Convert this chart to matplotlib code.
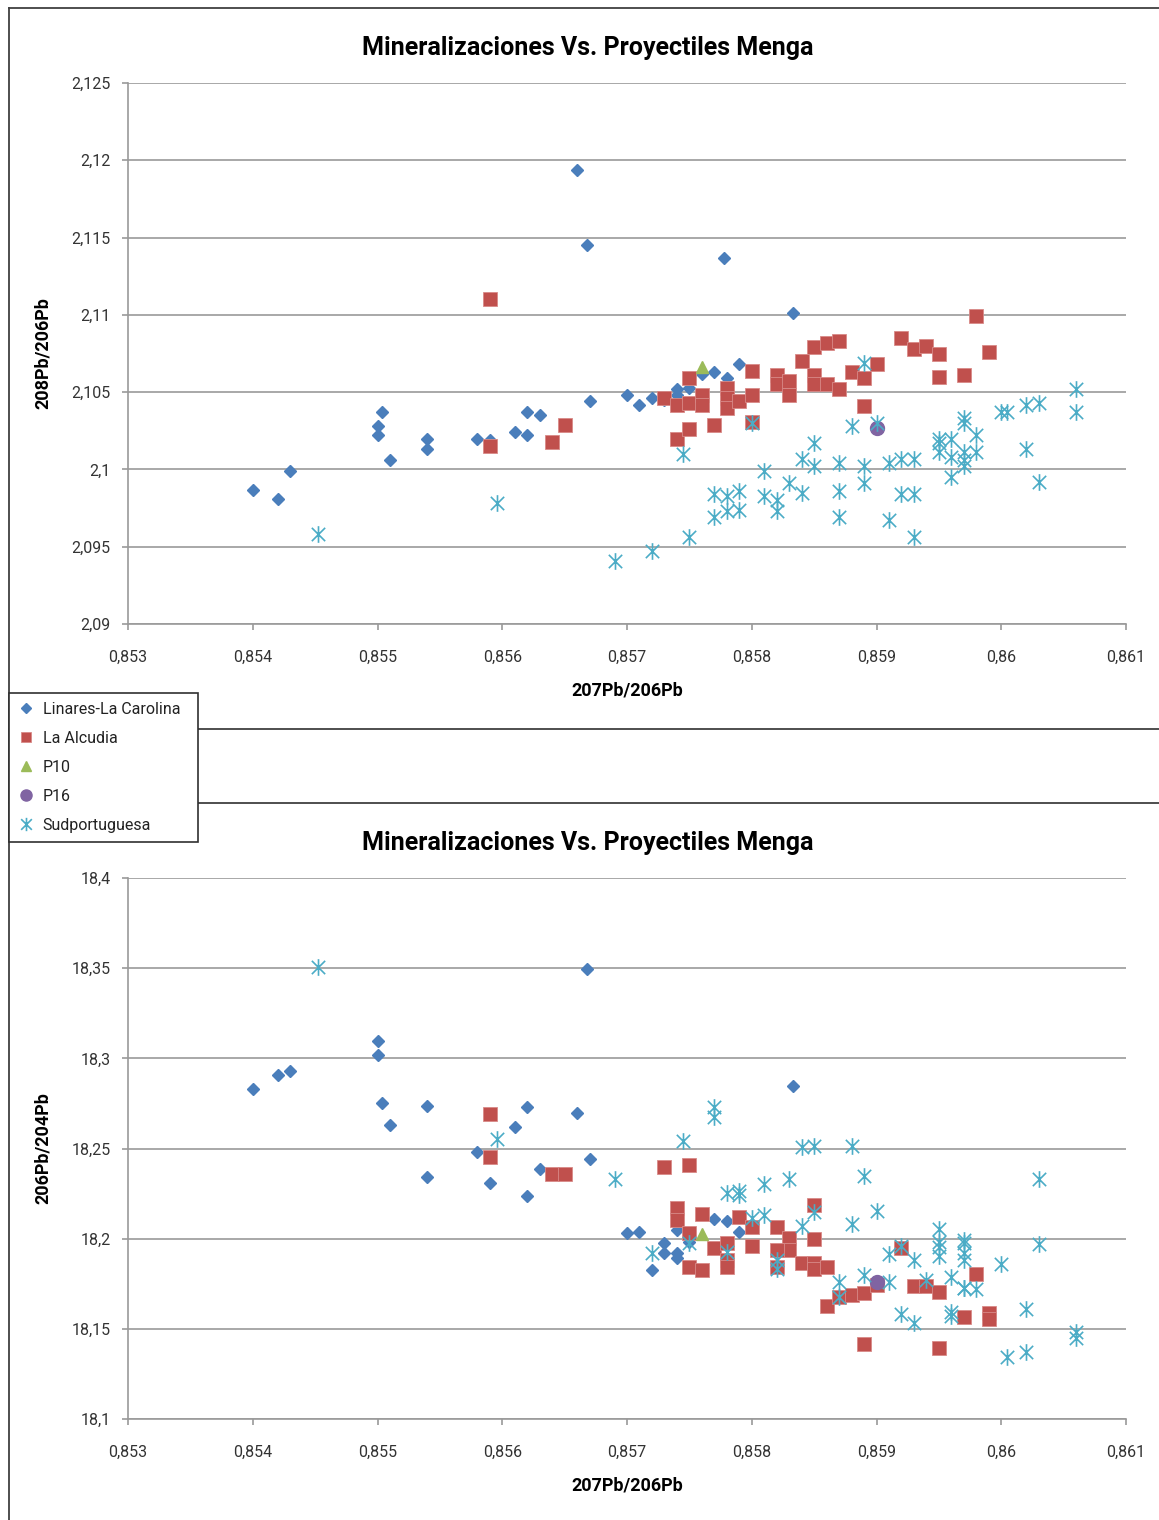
import numpy as np
import matplotlib
matplotlib.use("Agg")
import matplotlib.pyplot as plt
from matplotlib.path import Path
from matplotlib.lines import Line2D
from matplotlib.ticker import FuncFormatter, MultipleLocator

plt.rcParams['font.family'] = ['Roboto', 'DejaVu Sans']

# --- grafico 1: 207Pb/206Pb vs 208Pb/206Pb ---
lin_x1 = [0.8540, 0.8542, 0.8543, 0.8550, 0.8550, 0.85504, 0.8551, 0.8554, 0.8554, 0.8558,
          0.8559, 0.8561, 0.8562, 0.8562, 0.8563, 0.8566, 0.85668, 0.8567, 0.8570, 0.8571,
          0.8572, 0.8573, 0.8574, 0.8574, 0.8575, 0.8576, 0.8577, 0.8578, 0.8579, 0.85778, 0.85833]
lin_y1 = [2.0987, 2.0981, 2.0999, 2.1022, 2.1028, 2.1037, 2.1006, 2.1020, 2.1013, 2.1020,
          2.1019, 2.1024, 2.1037, 2.1022, 2.1035, 2.1194, 2.1145, 2.1044, 2.1048, 2.1042,
          2.1046, 2.1045, 2.1052, 2.1048, 2.1053, 2.1062, 2.1063, 2.1059, 2.1068, 2.1137, 2.1101]

alc_x1 = [0.8559, 0.8559, 0.8564, 0.8565, 0.8573, 0.8574, 0.8574, 0.8575, 0.8575, 0.8575,
          0.8576, 0.8576, 0.8577, 0.8578, 0.8578, 0.8578, 0.8579, 0.8580, 0.8580, 0.8580,
          0.8582, 0.8582, 0.8583, 0.8583, 0.8584, 0.8585, 0.8585, 0.8585, 0.8586, 0.8587,
          0.8586, 0.8587, 0.8588, 0.8589, 0.8589, 0.8590, 0.8592, 0.8593, 0.8594, 0.8595,
          0.8595, 0.8597, 0.8598, 0.8599]
alc_y1 = [2.1110, 2.1015, 2.1018, 2.1029, 2.1046, 2.1042, 2.1020, 2.1059, 2.1043, 2.1026,
          2.1048, 2.1042, 2.1029, 2.1053, 2.1046, 2.1040, 2.1044, 2.1064, 2.1048, 2.1031,
          2.1061, 2.1055, 2.1057, 2.1048, 2.1070, 2.1079, 2.1061, 2.1055, 2.1082, 2.1083,
          2.1055, 2.1052, 2.1063, 2.1059, 2.1041, 2.1068, 2.1085, 2.1078, 2.1080, 2.1075,
          2.1060, 2.1061, 2.1099, 2.1076]

p10_x1 = [0.8576]
p10_y1 = [2.1066]
p16_x1 = [0.8590]
p16_y1 = [2.1027]

sud_x1 = [0.85452, 0.85596, 0.8569, 0.8572, 0.85745, 0.8575, 0.8577, 0.8577, 0.8578, 0.8578,
          0.8579, 0.8579, 0.8580, 0.8581, 0.8581, 0.8582, 0.8582, 0.8583, 0.8584, 0.8584,
          0.8585, 0.8585, 0.8587, 0.8587, 0.8587, 0.8588, 0.8589, 0.8589, 0.8589, 0.8590,
          0.8591, 0.8591, 0.8592, 0.8593, 0.8592, 0.8593, 0.8593, 0.8595, 0.8595, 0.8595,
          0.8596, 0.8596, 0.8596, 0.8597, 0.8597, 0.8597, 0.8598, 0.8597, 0.8597, 0.8598,
          0.8600, 0.86005, 0.8602, 0.8602, 0.8603, 0.8603, 0.8606, 0.8606]
sud_y1 = [2.0958, 2.0978, 2.0941, 2.0947, 2.1010, 2.0956, 2.0969, 2.0984, 2.0973, 2.0983,
          2.0986, 2.0974, 2.1030, 2.0999, 2.0983, 2.0980, 2.0973, 2.0991, 2.0985, 2.1007,
          2.1017, 2.1002, 2.0986, 2.1004, 2.0969, 2.1028, 2.1002, 2.0991, 2.1069, 2.1030,
          2.1004, 2.0967, 2.1007, 2.1007, 2.0984, 2.0984, 2.0956, 2.1020, 2.1017, 2.1011,
          2.0995, 2.1020, 2.1008, 2.1033, 2.1030, 2.1011, 2.1011, 2.1006, 2.1002, 2.1022,
          2.1037, 2.1037, 2.1013, 2.1042, 2.1043, 2.0992, 2.1037, 2.1052]

# --- grafico 2: 207Pb/206Pb vs 206Pb/204Pb ---
lin_x2 = [0.8540, 0.8542, 0.8543, 0.8550, 0.8550, 0.85504, 0.8551, 0.8554, 0.8554, 0.8558,
          0.8559, 0.8561, 0.8562, 0.8562, 0.8563, 0.8566, 0.85668, 0.8567, 0.8570, 0.8571,
          0.8572, 0.8573, 0.8573, 0.8574, 0.8574, 0.8574, 0.8575, 0.8577, 0.8578, 0.8579,
          0.8578, 0.85833]
lin_y2 = [18.2830, 18.2908, 18.2930, 18.3096, 18.3019, 18.2752, 18.2630, 18.2342, 18.2736, 18.2481,
          18.2309, 18.2619, 18.2730, 18.2237, 18.2386, 18.2697, 18.3495, 18.2442, 18.2032, 18.2037,
          18.1826, 18.1976, 18.1921, 18.1921, 18.1893, 18.2048, 18.1982, 18.2109, 18.2098, 18.2037,
          18.1882, 18.2847]

alc_x2 = [0.8559, 0.8559, 0.8564, 0.8565, 0.8573, 0.8575, 0.8574, 0.8574, 0.8576, 0.8579,
          0.8580, 0.8582, 0.8583, 0.8583, 0.8585, 0.8585, 0.8575, 0.8577, 0.8578, 0.8578,
          0.8578, 0.8580, 0.8582, 0.8582, 0.8575, 0.8576, 0.8584, 0.8585, 0.8585, 0.8586,
          0.8586, 0.8587, 0.8588, 0.8589, 0.8590, 0.8592, 0.8593, 0.8594, 0.8595, 0.8598,
          0.8597, 0.8599, 0.8599, 0.8589, 0.8595]
alc_y2 = [18.2691, 18.2453, 18.2359, 18.2359, 18.2397, 18.2409, 18.2170, 18.2104, 18.2137, 18.2120,
          18.2065, 18.2065, 18.2004, 18.1937, 18.2187, 18.1998, 18.2032, 18.1948, 18.1976, 18.1882,
          18.1843, 18.1959, 18.1937, 18.1843, 18.1843, 18.1826, 18.1865, 18.1865, 18.1832, 18.1843,
          18.1627, 18.1677, 18.1688, 18.1699, 18.1743, 18.1948, 18.1738, 18.1738, 18.1704, 18.1804,
          18.1566, 18.1588, 18.1554, 18.1416, 18.1394]

p10_x2 = [0.8576]
p10_y2 = [18.2026]
p16_x2 = [0.8590]
p16_y2 = [18.1760]

sud_x2 = [0.85452, 0.85596, 0.8569, 0.8572, 0.85745, 0.8575, 0.8577, 0.8577, 0.8578, 0.8578,
          0.8579, 0.8579, 0.8580, 0.8581, 0.8581, 0.8582, 0.8582, 0.8583, 0.8584, 0.8584,
          0.8585, 0.8585, 0.8587, 0.8587, 0.8588, 0.8588, 0.8589, 0.8589, 0.8590, 0.8591,
          0.8591, 0.8592, 0.8593, 0.8592, 0.8593, 0.8594, 0.8595, 0.8595, 0.8595, 0.8595,
          0.8596, 0.8596, 0.8596, 0.8597, 0.8597, 0.8597, 0.8597, 0.8597, 0.8597, 0.8598,
          0.8600, 0.86005, 0.8602, 0.8602, 0.8603, 0.8603, 0.8606, 0.8606]
sud_y2 = [18.3507, 18.2553, 18.2331, 18.1921, 18.2542, 18.1976, 18.2675, 18.2730, 18.2253, 18.1926,
          18.2264, 18.2242, 18.2115, 18.2303, 18.2131, 18.1832, 18.1882, 18.2331, 18.2070, 18.2508,
          18.2514, 18.2148, 18.1677, 18.1760, 18.2514, 18.2081, 18.1799, 18.2348, 18.2154, 18.1915,
          18.1760, 18.1959, 18.1882, 18.1582, 18.1532, 18.1771, 18.2054, 18.1982, 18.1954, 18.1904,
          18.1571, 18.1593, 18.1788, 18.1976, 18.1993, 18.1921, 18.1882, 18.1727, 18.1727, 18.1721,
          18.1860, 18.1344, 18.1610, 18.1372, 18.1971, 18.2331, 18.1483, 18.1449]

# colores estilo Excel
c_lin = '#4a7ebb'
c_alc = '#c0504d'
c_p10 = '#9bbb59'
c_p16 = '#8064a2'
c_sud = '#4bacc6'

star = Path([(0, -1), (0, 1), (-0.8, -0.8), (0.8, 0.8), (-0.8, 0.8), (0.8, -0.8)],
            [Path.MOVETO, Path.LINETO, Path.MOVETO, Path.LINETO, Path.MOVETO, Path.LINETO])


def fmt(v, pos):
    s = f"{v:.3f}".rstrip('0').rstrip('.')
    return s.replace('.', ',')


def draw(ax, lx, ly, ax_, ay, p10x, p10y, p16x, p16y, sx, sy, ylabel, ylim, ystep, title_y):
    ax.plot(lx, ly, 'D', ms=6.5, color=c_lin, mec=c_lin, ls='none', label='Linares-La Carolina')
    ax.plot(ax_, ay, 's', ms=9.5, color=c_alc, mec='#d88a88', mew=0.6, ls='none', label='La Alcudia')
    ax.plot(p10x, p10y, '^', ms=9, color=c_p10, ls='none', label='P10')
    ax.plot(p16x, p16y, 'o', ms=10, color=c_p16, ls='none', label='P16')
    ax.plot(sx, sy, marker=star, ms=12, color='none', mec=c_sud, mew=1.2, ls='none', label='Sudportuguesa')
    ax.set_xlim(0.853, 0.861)
    ax.set_ylim(*ylim)
    ax.xaxis.set_major_locator(MultipleLocator(0.001))
    ax.yaxis.set_major_locator(MultipleLocator(ystep))
    ax.xaxis.set_major_formatter(FuncFormatter(fmt))
    ax.yaxis.set_major_formatter(FuncFormatter(fmt))
    ax.grid(axis='y', color='#9a9a9a', lw=1.2)
    ax.set_axisbelow(True)
    for s in ['top', 'right']:
        ax.spines[s].set_visible(False)
    for s in ['left', 'bottom']:
        ax.spines[s].set_color('#9a9a9a')
        ax.spines[s].set_linewidth(1.2)
    ax.tick_params(direction='out', length=4.5, width=1.2, color='#9a9a9a',
                   labelsize=11.5, labelcolor='#333333')
    ax.tick_params(axis='x', pad=14)
    ax.tick_params(axis='y', pad=8)
    ax.set_xlabel('207Pb/206Pb', fontsize=13, fontweight='bold', labelpad=12)
    ax.set_ylabel(ylabel, fontsize=13, fontweight='bold', labelpad=14)
    fig.text(588 / W, 1 - title_y / H, 'Mineralizaciones Vs. Proyectiles Menga',
             fontsize=18, fontweight='bold', ha='center', va='center')


fig = plt.figure(figsize=(11.59, 15.2), dpi=100)
W, H = 1159, 1520
ax1 = fig.add_axes([128 / W, 1 - 624 / H, 998 / W, 541 / H])
ax2 = fig.add_axes([128 / W, 1 - 1419 / H, 998 / W, 541 / H])

draw(ax1, lin_x1, lin_y1, alc_x1, alc_y1, p10_x1, p10_y1, p16_x1, p16_y1, sud_x1, sud_y1,
     '208Pb/206Pb', (2.09, 2.125), 0.005, 48)
draw(ax2, lin_x2, lin_y2, alc_x2, alc_y2, p10_x2, p10_y2, p16_x2, p16_y2, sud_x2, sud_y2,
     '206Pb/204Pb', (18.1, 18.4), 0.05, 843)

# marcos de los graficos
for xs, ys in [([9, 9], [8, H]), ([9, W], [8, 8]), ([9, W], [729, 729]), ([9, W], [803, 803])]:
    fig.add_artist(Line2D([x / W for x in xs], [1 - y / H for y in ys], color='#404040', lw=1.3,
                          transform=fig.transFigure))

h, l = ax1.get_legend_handles_labels()
leg = fig.legend(h, l, loc='upper left', bbox_to_anchor=(9 / W, 1 - 840 / H, 189 / W, 147 / H),
                 mode='expand', fontsize=11.5, frameon=True, fancybox=False, edgecolor='#303030',
                 borderaxespad=0, handletextpad=0.55, handlelength=1.0, labelspacing=0.88,
                 borderpad=0.55, markerscale=0.8)
leg.get_frame().set_linewidth(1.2)
leg.get_frame().set_alpha(1)
leg.set_zorder(10)
for t in leg.get_texts():
    t.set_color('#222222')

fig.savefig('out.png', dpi=100)
